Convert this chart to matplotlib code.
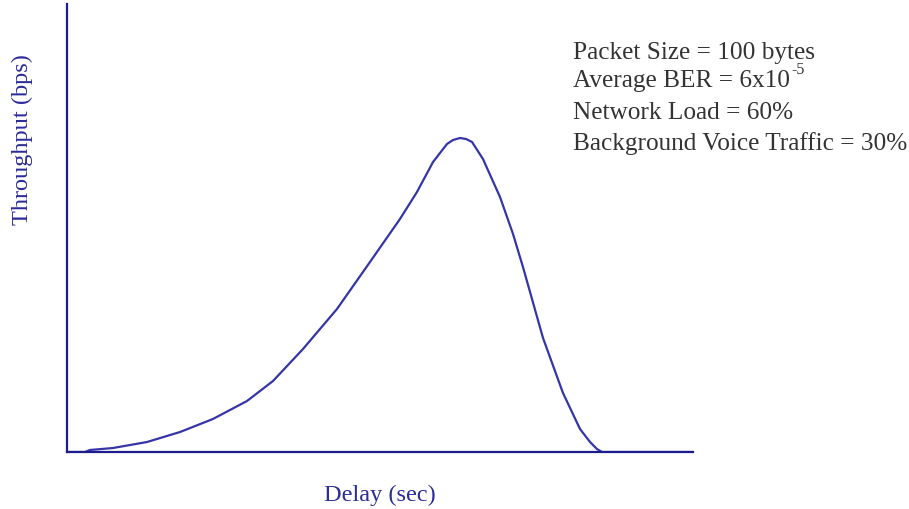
import matplotlib
matplotlib.use("Agg")
import matplotlib.pyplot as plt

plt.rcParams['font.family'] = ['Liberation Serif', 'DejaVu Serif']

# Curve (arbitrary units, 0-100 on both axes)
delay = [0, 2.88, 3.67, 7.35, 12.78, 18.05, 23.32, 28.75, 32.91, 37.70, 43.13, 48.40,
         53.19, 55.91, 58.47, 60.70, 61.66, 62.78, 63.74, 64.70, 66.45, 69.17, 71.25,
         72.84, 76.04, 79.23, 81.95, 83.55, 84.66, 85.46, 100]
throughput = [0, 0, 0.45, 0.89, 2.23, 4.46, 7.37, 11.38, 15.85, 22.99, 31.92, 42.41,
              52.01, 58.04, 64.73, 68.75, 69.64, 70.09, 69.87, 69.20, 65.40, 56.92, 48.66,
              41.29, 25.45, 13.17, 5.13, 2.23, 0.67, 0, 0]

notes = ["Packet Size = 100 bytes",
         "Average BER = 6x10",
         "Network Load = 60%",
         "Background Voice Traffic = 30%"]
ber_exp = "-5"

fig = plt.figure(figsize=(9.09, 5.10), dpi=100)
ax = fig.add_axes([67/909, 1-453/510, (693-67)/909, (453-5)/510])
ax.plot(delay, throughput, color='#3535a8', lw=1.6, solid_capstyle='round',
        solid_joinstyle='round')
ax.set_xlim(0, 100)
ax.set_ylim(0, 100)
for s in ['top', 'right']:
    ax.spines[s].set_visible(False)
for s in ['left', 'bottom']:
    ax.spines[s].set_color('#1c1c8c')
    ax.spines[s].set_linewidth(1.6)
ax.set_xticks([])
ax.set_yticks([])

fig.text(380/909, 1-495/510, "Delay (sec)", ha='center', va='center',
         fontsize=17.5, color='#2b2b99')
fig.text(22/909, 1-140/510, "Throughput (bps)", ha='center', va='center',
         rotation=90, fontsize=17.5, color='#2b2b99')

ys = [53, 81, 113, 144]
texts = []
for t, y in zip(notes, ys):
    texts.append(fig.text(573/909, 1-y/510, t, ha='left', va='center',
                          fontsize=18.2, color='#333333'))
ax.annotate(ber_exp, xy=(1, 0.62), xycoords=texts[1], xytext=(1, 0),
            textcoords='offset points', ha='left', va='bottom', fontsize=11.5,
            color='#333333', annotation_clip=False)

fig.savefig("out.png", dpi=100)
